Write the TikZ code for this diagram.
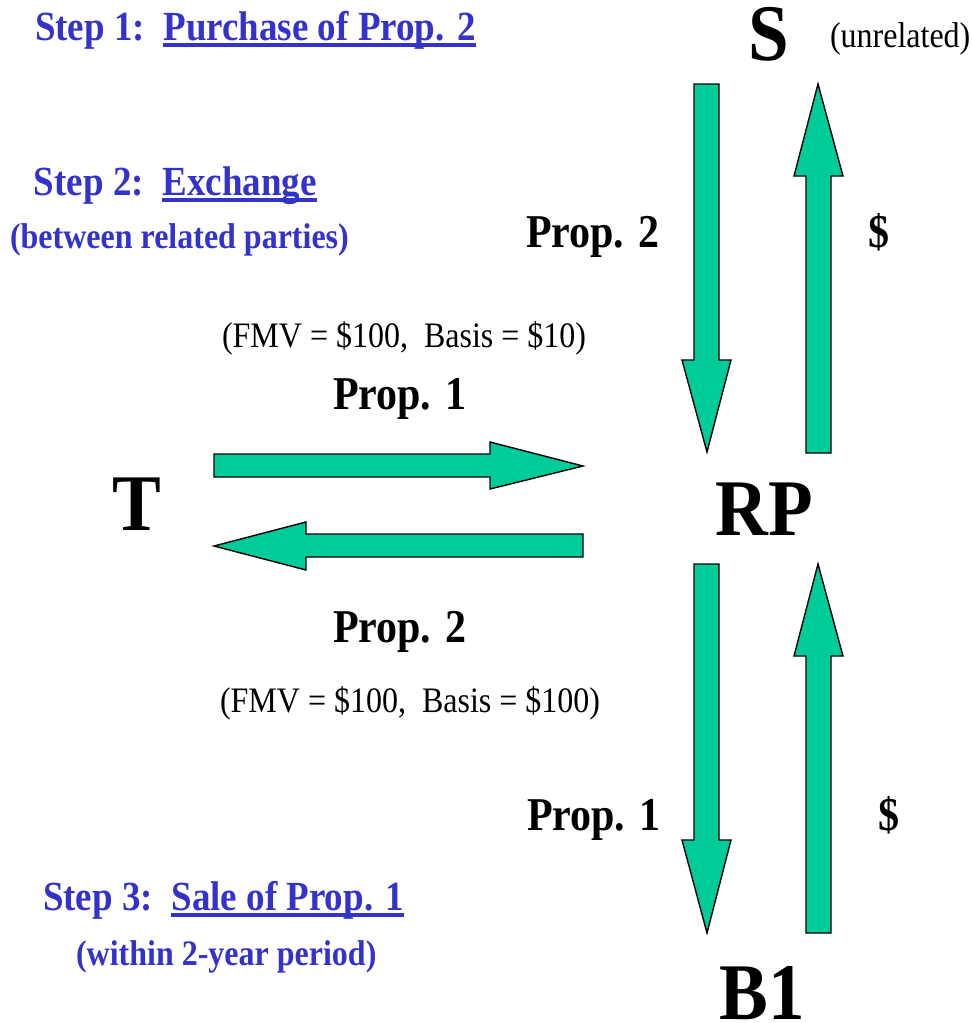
\documentclass[tikz,border=0pt]{standalone}
\usepackage{fontspec}
\setmainfont{Liberation Serif}
\usepackage{graphicx}
\definecolor{stepblue}{HTML}{3333CC}
\definecolor{arrowgreen}{HTML}{00CC99}
\newcommand\ulbar[1]{\setbox0\hbox{#1}\rlap{\rule[-6pt]{\wd0}{3.5pt}}\box0}
\newcommand\vs[1]{\scalebox{1}[1.12]{#1}}
\newcommand\vbig[1]{\scalebox{1}[1.1]{#1}}
\tikzset{
  lbl/.style={inner sep=0pt, outer sep=0pt, anchor=base west},
  steptxt/.style={lbl, text=stepblue, font=\fontsize{37}{40}\selectfont\bfseries},
  subtxt/.style={lbl, text=stepblue, font=\fontsize{32}{36}\selectfont\bfseries},
  proptxt/.style={lbl, font=\fontsize{42}{46}\selectfont\bfseries},
  dollar/.style={proptxt, anchor=base},
  valtxt/.style={lbl, font=\fontsize{32}{36}\selectfont},
  party/.style={inner sep=0pt, outer sep=0pt, anchor=base, font=\fontsize{73}{80}\selectfont\bfseries},
  barrow/.style={fill=arrowgreen, draw=black, line width=1.4pt, line join=miter},
}
\begin{document}
\begin{tikzpicture}[x=1pt,y=-1pt]
\fill[white] (0,0) rectangle (972,1023);
\useasboundingbox (0,0) rectangle (972,1023);

% step labels
\node[steptxt] (step1) at (35,40) {\vs{Step 1:\ \ \ulbar{Purchase of Prop. 2}}};
\node[steptxt] (step2) at (34,195) {\vs{Step 2:\ \ \ulbar{Exchange}}};
\node[subtxt] (between) at (10,248) {\vs{(between related parties)}};
\node[steptxt] (step3) at (43,910) {\vs{Step 3:\ \ \ulbar{Sale of Prop. 1}}};
\node[subtxt] (within) at (76,965) {\vs{(within 2-year period)}};

% parties
\node[party] (S) at (769,60) {\vbig{S}};
\node[valtxt] (unrel) at (830,47) {\vs{(unrelated)}};
\node[party] (T) at (137,530) {\vbig{T}};
\node[party] (RP) at (764,535) {\vbig{RP}};
\node[party] (B1) at (762,1019) {\vbig{B1}};

% transaction labels
\node[proptxt] (p2up) at (526,247) {\vs{Prop. 2}};
\node[dollar] (dup) at (879,247) {\vs{\$}};
\node[valtxt] (fmv1) at (222,347) {\vs{(FMV = \$100,\ \ Basis = \$10)}};
\node[proptxt] (p1mid) at (333,409) {\vs{Prop. 1}};
\node[proptxt] (p2mid) at (333,642) {\vs{Prop. 2}};
\node[valtxt] (fmv2) at (220,712) {\vs{(FMV = \$100,\ \ Basis = \$100)}};
\node[proptxt] (p1low) at (527,830) {\vs{Prop. 1}};
\node[dollar] (dlow) at (889,830) {\vs{\$}};

% block arrows
\draw[barrow] (694,84) -- (719,84) -- (719,360) -- (731,360) -- (707,452) -- (682,360) -- (694,360) -- cycle;
\draw[barrow] (806,453) -- (831,453) -- (831,176) -- (843,176) -- (818,84) -- (794,176) -- (806,176) -- cycle;
\draw[barrow] (694,564) -- (719,564) -- (719,840) -- (731,840) -- (707,933) -- (682,840) -- (694,840) -- cycle;
\draw[barrow] (806,933) -- (831,933) -- (831,656) -- (843,656) -- (818,564) -- (794,656) -- (806,656) -- cycle;
\draw[barrow] (214,454) -- (490,454) -- (490,442) -- (583,466) -- (490,489) -- (490,477) -- (214,477) -- cycle;
\draw[barrow] (583,534) -- (306,534) -- (306,522) -- (214,546) -- (306,570) -- (306,557) -- (583,557) -- cycle;
\end{tikzpicture}
\end{document}
